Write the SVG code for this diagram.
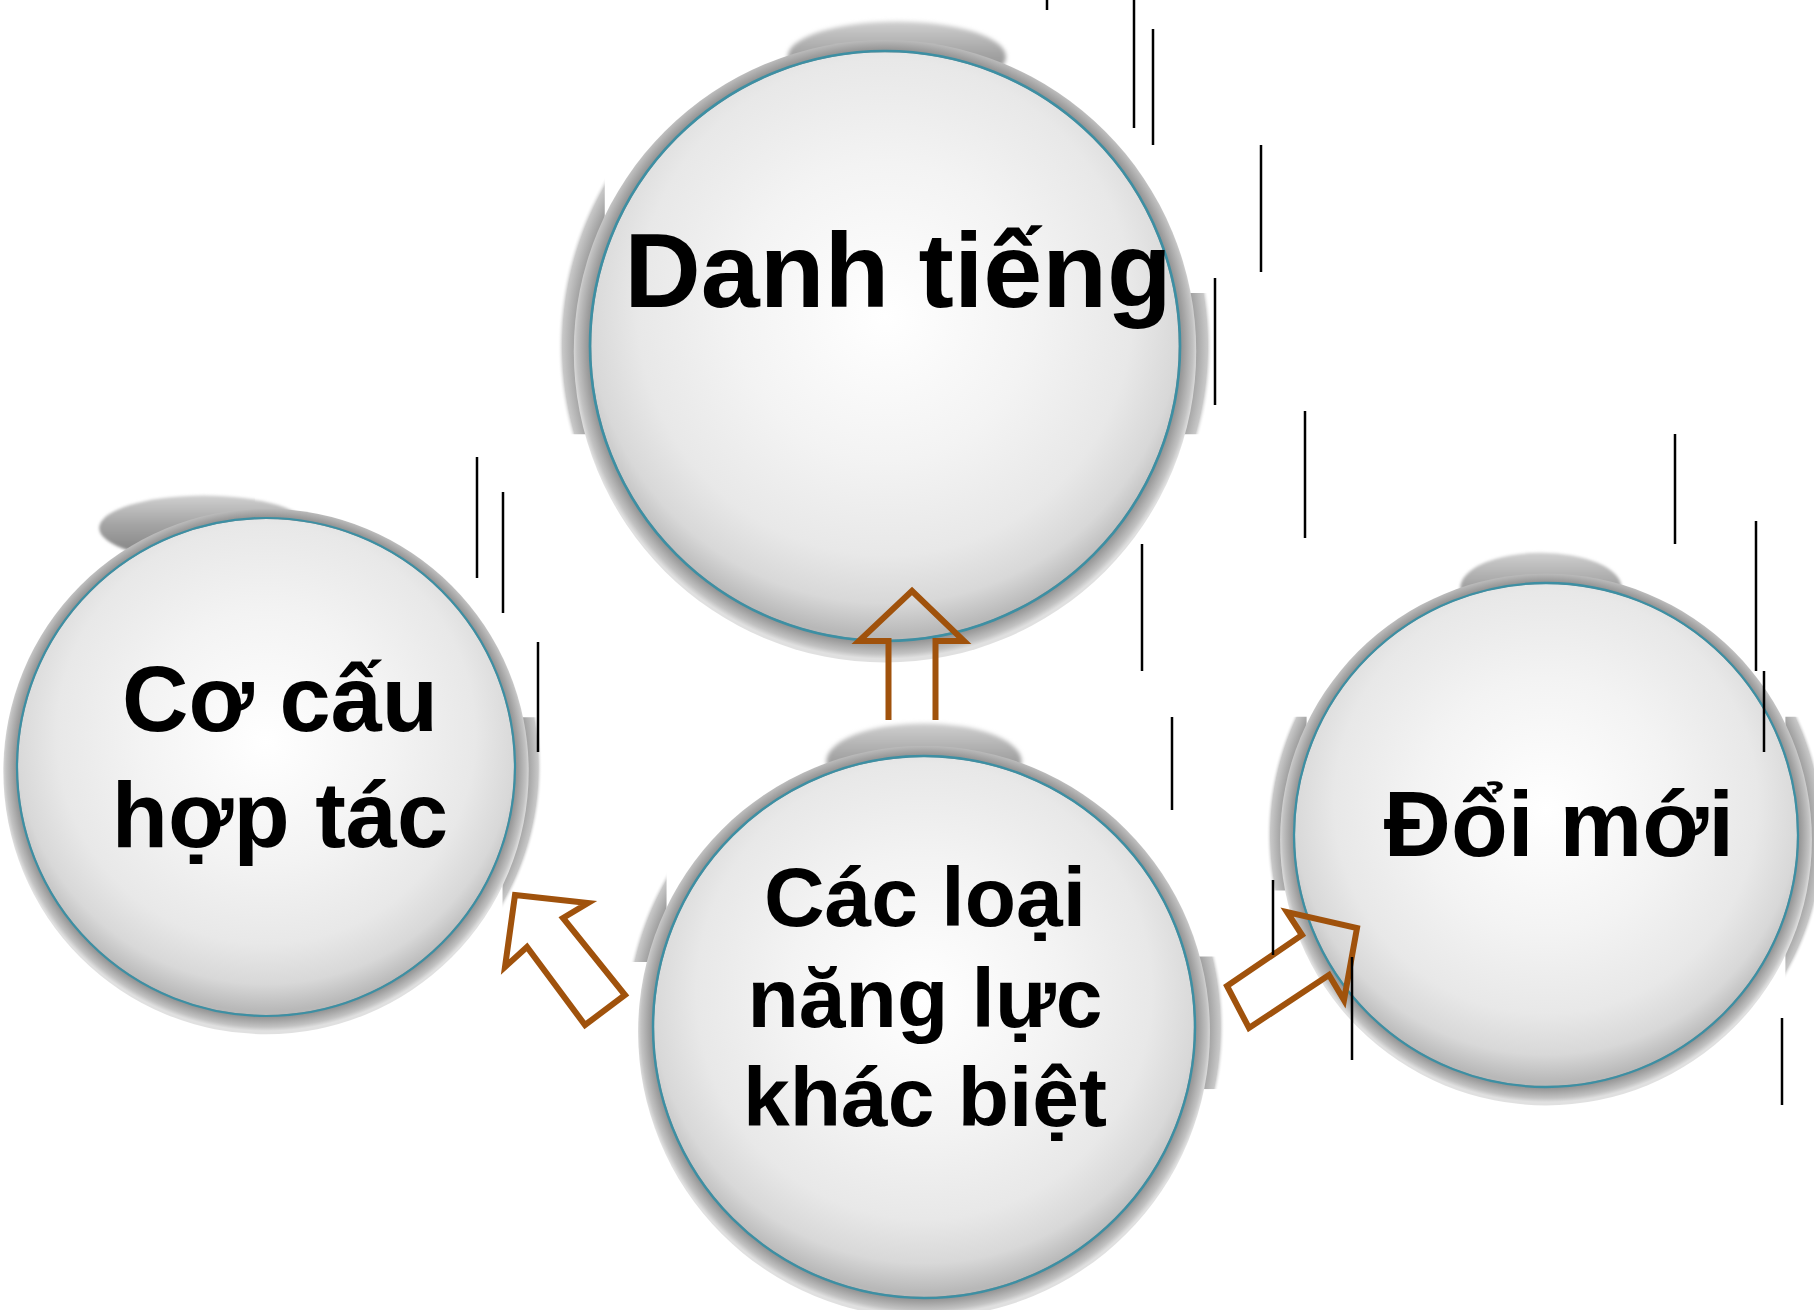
<svg xmlns="http://www.w3.org/2000/svg" width="1814" height="1310" viewBox="0 0 1814 1310">
  <style>
    .label { font-family: "Liberation Sans", Arial, "Noto Sans", sans-serif; font-weight: bold; fill: #000; text-anchor: middle; }
    .arrow { fill: none; stroke: #A0520C; stroke-width: 6; stroke-linejoin: miter; }
    .tick { stroke: #000; stroke-width: 2.5; }
    .outline { fill: none; stroke: #3d8fa3; stroke-width: 0.9; }
  </style>
  <defs>
    <!-- glass ball body, unit radius 100 -->
    <radialGradient id="ballFill" cx="0" cy="-14" r="112" fx="0" fy="-10" gradientUnits="userSpaceOnUse">
      <stop offset="0" stop-color="#ffffff"/>
      <stop offset="0.45" stop-color="#f3f3f3"/>
      <stop offset="0.75" stop-color="#e8e8e8"/>
      <stop offset="0.9" stop-color="#d8d8d8"/>
      <stop offset="1" stop-color="#b8b8b8"/>
    </radialGradient>
    <radialGradient id="rimFill" cx="0" cy="0" r="106" gradientUnits="userSpaceOnUse">
      <stop offset="0.9" stop-color="#7a7a7a"/>
      <stop offset="0.95" stop-color="#989898"/>
      <stop offset="0.985" stop-color="#c2c2c2"/>
      <stop offset="1" stop-color="#e0e0e0"/>
    </radialGradient>
    <radialGradient id="haloFill" cx="0" cy="0" r="111" gradientUnits="userSpaceOnUse">
      <stop offset="0.88" stop-color="#7c7c7c"/>
      <stop offset="0.94" stop-color="#9a9a9a"/>
      <stop offset="0.985" stop-color="#c8c8c8"/>
      <stop offset="1" stop-color="#ffffff" stop-opacity="0"/>
    </radialGradient>
    <linearGradient id="capFill" x1="0" y1="0" x2="0" y2="1">
      <stop offset="0" stop-color="#cfcfcf"/>
      <stop offset="0.45" stop-color="#a4a4a4"/>
      <stop offset="1" stop-color="#7c7c7c"/>
    </linearGradient>
    <filter id="soft" x="-20%" y="-20%" width="140%" height="140%">
      <feGaussianBlur stdDeviation="0.7"/>
    </filter>
    <!-- shared ball: rim, body and outline -->
    <g id="ball">
      <circle cx="0" cy="1.8" r="105.5" fill="url(#rimFill)"/>
      <circle cx="0" cy="0" r="99.6" fill="url(#ballFill)"/>
      <circle cx="0" cy="0" r="100" class="outline"/>
    </g>
    <clipPath id="bandsTop"><rect x="-115" y="-66" width="20" height="96"/><rect x="95" y="-18" width="20" height="48"/></clipPath>
    <clipPath id="bandsLeft"><rect x="95" y="-20" width="20" height="83"/></clipPath>
    <clipPath id="bandsCenter"><rect x="-115" y="-71" width="20" height="47"/><rect x="95" y="-26" width="20" height="49"/></clipPath>
    <clipPath id="bandsRight"><rect x="-115" y="-47" width="20" height="69"/><rect x="95" y="-47" width="20" height="110"/></clipPath>
  </defs>

  <rect width="1814" height="1310" fill="#ffffff"/>

  <!-- Danh tiếng -->
  <g id="node-danh-tieng">
    <g transform="translate(885,346) scale(2.95)">
      <ellipse cx="4" cy="-98" rx="37" ry="12" fill="url(#capFill)" filter="url(#soft)"/>
      <circle r="111" fill="url(#haloFill)" clip-path="url(#bandsTop)"/>
      <use href="#ball"/>
    </g>
    <text class="label" x="898" y="307" font-size="106">Danh tiếng</text>
  </g>

  <!-- Cơ cấu hợp tác -->
  <g id="node-co-cau">
    <g transform="translate(266,767) scale(2.49)">
      <ellipse cx="-25" cy="-96" rx="42" ry="13" fill="url(#capFill)" filter="url(#soft)"/>
      <circle r="111" fill="url(#haloFill)" clip-path="url(#bandsLeft)"/>
      <use href="#ball"/>
    </g>
    <text class="label" x="280" y="731" font-size="92">Cơ cấu</text>
    <text class="label" x="280" y="847" font-size="92">hợp tác</text>
  </g>

  <!-- Các loại năng lực khác biệt -->
  <g id="node-nang-luc">
    <g transform="translate(924,1027) scale(2.71)">
      <ellipse cx="0" cy="-98" rx="36" ry="14" fill="url(#capFill)" filter="url(#soft)"/>
      <circle r="111" fill="url(#haloFill)" clip-path="url(#bandsCenter)"/>
      <use href="#ball"/>
    </g>
    <text class="label" x="925" y="926" font-size="84">Các loại</text>
    <text class="label" x="925" y="1027" font-size="84">năng lực</text>
    <text class="label" x="925" y="1126" font-size="84">khác biệt</text>
  </g>

  <!-- Đổi mới -->
  <g id="node-doi-moi">
    <g transform="translate(1546,835) scale(2.52)">
      <ellipse cx="-2" cy="-98" rx="32" ry="14" fill="url(#capFill)" filter="url(#soft)"/>
      <circle r="111" fill="url(#haloFill)" clip-path="url(#bandsRight)"/>
      <use href="#ball"/>
    </g>
    <text class="label" x="1559" y="856" font-size="93">Đổi mới</text>
  </g>

  <!-- hollow block arrows from the centre ball -->
  <g id="connectors">
    <path class="arrow" d="M888.5,720 V641 H859 L912,591 L964,641 H935.5 V720"/>
    <polygon class="arrow" points="515,895 588,903 563,918 625,995 585,1025 527,947 505,967"/>
    <polygon class="arrow" points="1227,986 1302,935 1287,912 1357,928 1344,1000 1329,975 1249,1028"/>
  </g>

  <!-- thin vertical strokes -->
  <g id="strokes" class="tick">
    <line x1="1047" y1="0" x2="1047" y2="10"/>
    <line x1="1134" y1="0" x2="1134" y2="128"/>
    <line x1="1153" y1="29" x2="1153" y2="145"/>
    <line x1="1261" y1="145" x2="1261" y2="272"/>
    <line x1="1215" y1="278" x2="1215" y2="405"/>
    <line x1="1305" y1="411" x2="1305" y2="538"/>
    <line x1="1142" y1="544" x2="1142" y2="671"/>
    <line x1="1172" y1="717" x2="1172" y2="810"/>
    <line x1="1675" y1="434" x2="1675" y2="544"/>
    <line x1="1756" y1="521" x2="1756" y2="671"/>
    <line x1="1764" y1="671" x2="1764" y2="752"/>
    <line x1="477" y1="457" x2="477" y2="578"/>
    <line x1="503" y1="492" x2="503" y2="613"/>
    <line x1="538" y1="642" x2="538" y2="752"/>
    <line x1="1273" y1="880" x2="1273" y2="955"/>
    <line x1="1352" y1="957" x2="1352" y2="1060"/>
    <line x1="1782" y1="1018" x2="1782" y2="1105"/>
  </g>
</svg>
